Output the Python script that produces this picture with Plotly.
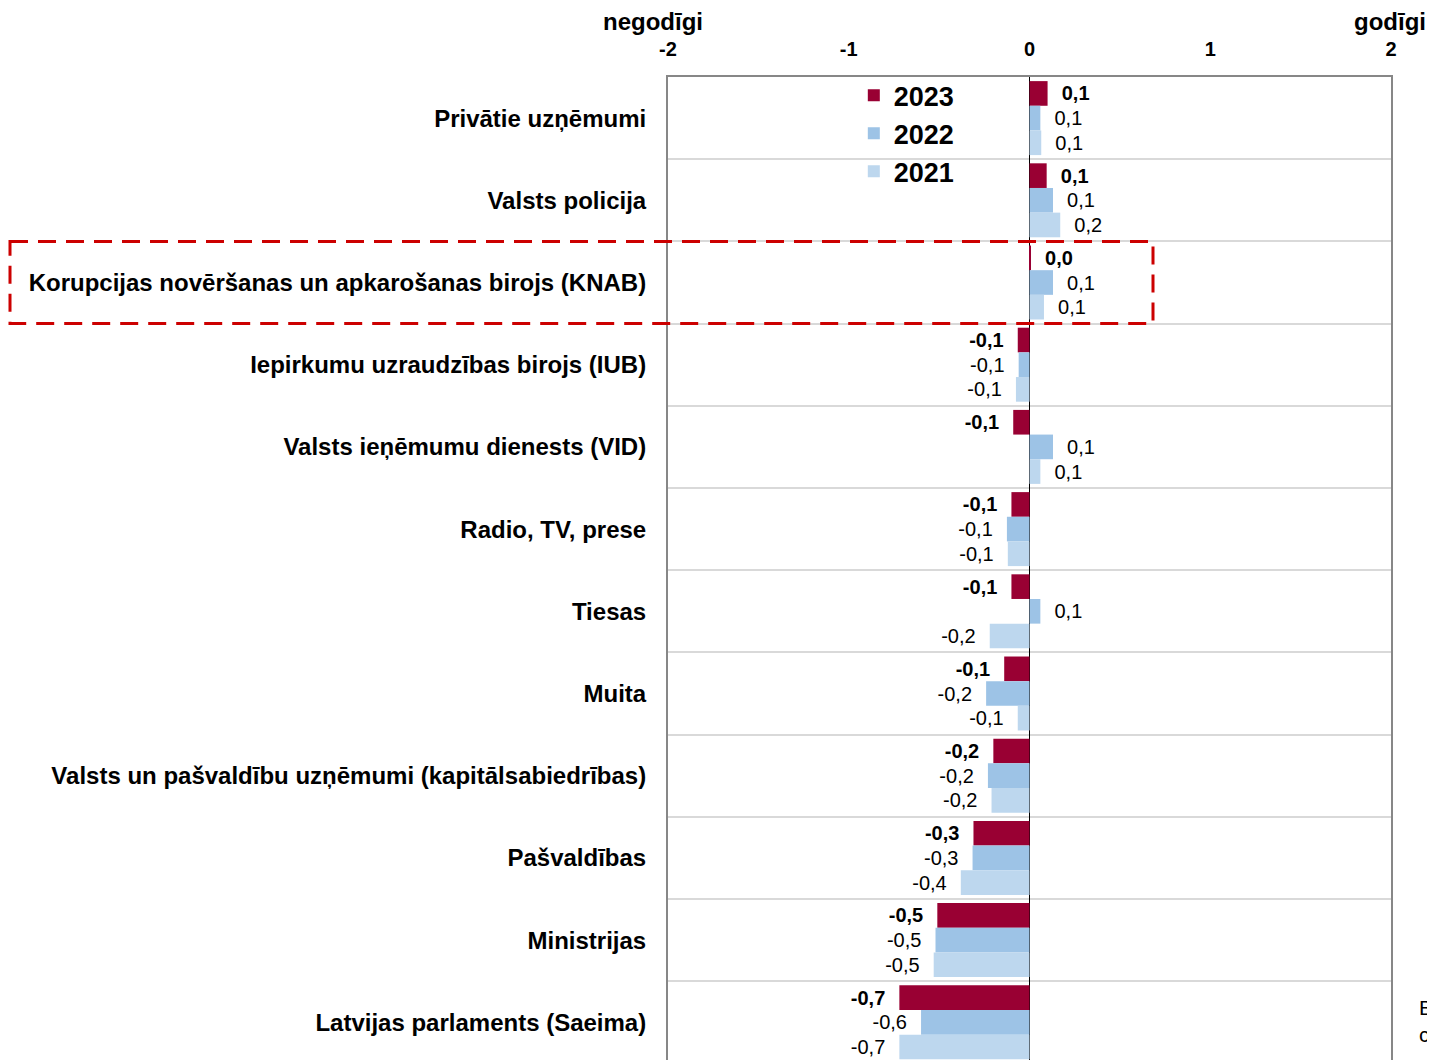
import plotly.graph_objects as go

categories = [
    "Privātie uzņēmumi",
    "Valsts policija",
    "Korupcijas novēršanas un apkarošanas birojs (KNAB)",
    "Iepirkumu uzraudzības birojs (IUB)",
    "Valsts ieņēmumu dienests (VID)",
    "Radio, TV, prese",
    "Tiesas",
    "Muita",
    "Valsts un pašvaldību uzņēmumi (kapitālsabiedrības)",
    "Pašvaldības",
    "Ministrijas",
    "Latvijas parlaments (Saeima)",
]
v2023 = [0.10, 0.095, 0.003, -0.065, -0.09, -0.10, -0.10, -0.14, -0.20, -0.31, -0.51, -0.72]
v2022 = [0.06, 0.13, 0.13, -0.06, 0.13, -0.125, 0.06, -0.24, -0.23, -0.315, -0.52, -0.60]
v2021 = [0.065, 0.17, 0.08, -0.075, 0.06, -0.12, -0.22, -0.065, -0.21, -0.38, -0.53, -0.72]

series = [("2023", v2023, "#990033", True),
          ("2022", v2022, "#9DC3E6", False),
          ("2021", v2021, "#BDD7EE", False)]

x_ticks = [-2, -1, 0, 1, 2]
FONT = "Liberation Sans, Arial, sans-serif"
PAD = "\u00a0\u00a0"

# page has an 8px body margin; figure pixel coordinates below are relative to figure
W, H = 1427, 1052
ML, MT, PW = 660, 69, 723
PH = H - MT
ROW = 82.2


def fmt(v, bold):
    s = f"{v:.1f}".replace(".", ",")
    if s == "-0,0":
        s = "0,0"
    s = (PAD + s) if v >= 0 else (s + PAD)
    return f"<b>{s}</b>" if bold else s


fig = go.Figure()
for name, vals, color, bold in series:
    fig.add_trace(go.Bar(
        y=categories, x=vals, orientation="h", name=name,
        legendgroup=name,
        marker=dict(color=color, line=dict(width=0)),
        text=[fmt(v, bold) for v in vals],
        textposition="outside", constraintext="none", cliponaxis=False,
        textfont=dict(family=FONT, size=20, color="black"),
        hoverinfo="skip",
    ))

fig.update_layout(
    width=W, height=H,
    margin=dict(l=ML, r=W - ML - PW, t=MT, b=0),
    paper_bgcolor="white", plot_bgcolor="white",
    barmode="group", bargap=0.1, bargroupgap=0,
    font=dict(family=FONT, color="black"),
    showlegend=True,
    legend=dict(
        x=0.257, y=1.006, xanchor="left", yanchor="top",
        bgcolor="rgba(0,0,0,0)", traceorder="grouped", tracegroupgap=0,
        font=dict(family=FONT, size=27, color="black", weight="bold"),
        itemwidth=30,
    ),
    xaxis=dict(
        range=[-2, 2], side="top", tickvals=x_ticks,
        ticktext=[str(t) for t in x_ticks],
        tickfont=dict(family=FONT, size=20, color="black", weight="bold"),
        ticks="", ticklabelstandoff=11,
        showgrid=False, zeroline=True, zerolinecolor="black", zerolinewidth=1,
        showline=True, linecolor="#878787", linewidth=2, mirror=False,
        layer="above traces",
    ),
    yaxis=dict(
        type="category", categoryorder="array", categoryarray=categories,
        range=[-0.5 + PH / ROW, -0.5], tickson="boundaries", ticks="",
        tickfont=dict(family=FONT, size=24, color="black", weight="bold"),
        ticklabelstandoff=15,
        showgrid=True, gridcolor="#d9d9d9", gridwidth=1.5,
        showline=True, linecolor="#878787", linewidth=2, mirror=True,
        zeroline=False,
    ),
)

# highlight box around KNAB row
fig.add_shape(type="rect", xref="paper", yref="y",
              x0=(2 - ML) / PW, x1=(1145 - ML) / PW, y0=1.5, y1=2.5,
              line=dict(color="#CC0000", width=3, dash="18px,10px"),
              fillcolor="rgba(0,0,0,0)", layer="above")

ann_font = dict(family=FONT, size=24, color="black", weight="bold")
fig.add_annotation(text="negodīgi", xref="paper", yref="paper",
                   x=(645 - ML) / PW, y=1.0 + (MT - 14) / PH, xanchor="center", yanchor="middle",
                   showarrow=False, font=ann_font)
fig.add_annotation(text="godīgi", xref="paper", yref="paper",
                   x=(1382 - ML) / PW, y=1.0 + (MT - 14) / PH, xanchor="center", yanchor="middle",
                   showarrow=False, font=ann_font)
fig.add_annotation(text="B<br>c", xref="paper", yref="paper",
                   x=(1409 - ML) / PW, y=1.0 - (1013 - MT) / PH, xanchor="left", yanchor="middle",
                   align="left", showarrow=False,
                   font=dict(family=FONT, size=21, color="black"))

fig.write_html("out.html")
